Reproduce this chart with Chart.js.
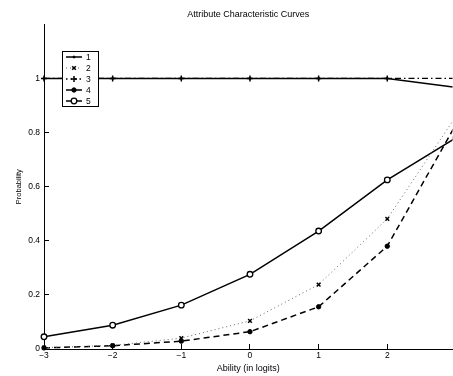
<!DOCTYPE html>
<html>
<head>
<meta charset="utf-8">
<script src="https://cdn.jsdelivr.net/npm/chart.js@4/dist/chart.umd.min.js"></script>
<style>
  html, body { margin: 0; padding: 0; background: #fff; overflow: hidden; }
  canvas { display: block; }
</style>
</head>
<body>
<!-- a little wider than the window: the figure is cut off at the right, like the original -->
<canvas id="accChart" width="458" height="376"></canvas>
<script>
// ability levels (logits)
const abilities = [-3, -2, -1, 0, 1, 2, 3];

// probability per attribute
const attr1 = [1, 1, 1, 1, 1, 1, 0.967];
const attr2 = [0.005, 0.013, 0.04, 0.104, 0.238, 0.481, 0.86];
const attr3 = [1, 1, 1, 1, 1, 1, 1];
const attr4 = [0.004, 0.012, 0.029, 0.064, 0.156, 0.38, 0.83];
const attr5 = [0.045, 0.088, 0.162, 0.276, 0.436, 0.625, 0.78];

const seriesNames = ['1', '2', '3', '4', '5'];

const xTicks = [-3, -2, -1, 0, 1, 2];
const yTicks = [0, 0.2, 0.4, 0.6, 0.8, 1];

const FONT = '"Liberation Sans", Arial, Helvetica, sans-serif';

function pts(vals) {
    return abilities.map((a, i) => ({ x: a, y: vals[i] }));
}

function fmt(v) {
    const s = String(Math.round(v * 10) / 10);
    return s.replace('-', '\u2212');
}

// legend box drawn inside the axes, like the original figure
const boxLegend = {
    id: 'boxLegend',
    afterDraw(chart) {
        const ctx = chart.ctx;
        const x0 = 62.5, y0 = 51.5, w = 36, h = 55;
        ctx.save();
        ctx.fillStyle = '#fff';
        ctx.fillRect(x0, y0, w, h);
        ctx.strokeStyle = '#000';
        ctx.lineWidth = 1;
        ctx.strokeRect(x0, y0, w, h);
        ctx.font = '8.5px ' + FONT;
        ctx.textBaseline = 'middle';
        chart.data.datasets.forEach((ds, i) => {
            const y = 57 + i * 11;
            ctx.strokeStyle = ds.borderColor;
            ctx.lineWidth = ds.borderWidth;
            ctx.setLineDash(ds.legendDash || []);
            ctx.beginPath();
            ctx.moveTo(66, y);
            ctx.lineTo(82, y);
            ctx.stroke();
            ctx.setLineDash([]);
            if (ds.pointRadius > 0) {
                ctx.fillStyle = ds.pointBackgroundColor;
                ctx.strokeStyle = ds.pointBorderColor;
                ctx.lineWidth = ds.pointBorderWidth;
                Chart.helpers.drawPoint(ctx, {
                    pointStyle: ds.pointStyle,
                    radius: ds.pointRadius,
                    borderWidth: ds.pointBorderWidth,
                    rotation: 0
                }, 74, y);
            }
            ctx.fillStyle = '#000';
            ctx.fillText(ds.label, 86, y + 0.5);
        });
        ctx.restore();
    }
};

function noPad(s) {
    s.paddingLeft = 0;
    s.paddingRight = 0;
    s.paddingTop = 0;
    s.paddingBottom = 0;
}

new Chart(document.getElementById('accChart'), {
    type: 'line',
    data: {
        datasets: [
            {
                label: seriesNames[0], data: pts(attr1),
                borderColor: '#000', borderWidth: 1.5,
                pointStyle: 'circle', pointRadius: 1,
                pointBackgroundColor: '#000', pointBorderColor: '#000', pointBorderWidth: 1
            },
            {
                label: seriesNames[1], data: pts(attr2),
                borderColor: '#666', borderWidth: 1, borderDash: [1, 3], legendDash: [1, 3],
                pointStyle: 'crossRot', pointRadius: 2.6,
                pointBackgroundColor: '#000', pointBorderColor: '#000', pointBorderWidth: 1.5
            },
            {
                label: seriesNames[2], data: pts(attr3),
                borderColor: '#000', borderWidth: 1.3, borderDash: [6, 3, 1.5, 3], legendDash: [1.5, 3],
                pointStyle: 'cross', pointRadius: 3,
                pointBackgroundColor: '#000', pointBorderColor: '#000', pointBorderWidth: 1.5
            },
            {
                label: seriesNames[3], data: pts(attr4),
                borderColor: '#000', borderWidth: 1.5, borderDash: [6, 4], legendDash: [],
                pointStyle: 'circle', pointRadius: 2.2,
                pointBackgroundColor: '#000', pointBorderColor: '#000', pointBorderWidth: 1
            },
            {
                label: seriesNames[4], data: pts(attr5),
                borderColor: '#000', borderWidth: 1.5,
                pointStyle: 'circle', pointRadius: 2.8,
                pointBackgroundColor: '#fff', pointBorderColor: '#000', pointBorderWidth: 1.3
            }
        ]
    },
    options: {
        responsive: false,
        devicePixelRatio: 1,
        animation: false,
        layout: { padding: 0 },
        elements: { line: { tension: 0 } },
        datasets: { line: { clip: { left: 6, top: 6, bottom: 6, right: 0 } } },
        plugins: {
            legend: { display: false },
            tooltip: { enabled: false },
            title: {
                display: true,
                fullSize: false,
                text: 'Attribute Characteristic Curves',
                color: '#000',
                font: { family: FONT, size: 9, weight: 'normal' },
                padding: { top: 9, bottom: 4.5 }
            }
        },
        scales: {
            x: {
                type: 'linear',
                min: -3,
                max: 2.95,
                afterBuildTicks: s => { s.ticks = xTicks.map(v => ({ value: v })); },
                afterFit: s => { s.height = 27; noPad(s); },
                grid: { drawOnChartArea: false, drawTicks: true, tickLength: -5, color: '#000', lineWidth: 1 },
                border: { display: true, color: '#000', width: 1 },
                ticks: {
                    color: '#000', padding: 7, maxRotation: 0,
                    font: { family: FONT, size: 8.5 },
                    callback: v => fmt(v)
                },
                title: {
                    display: true, text: 'Ability (in logits)', color: '#000',
                    font: { family: FONT, size: 9 },
                    padding: { top: 0, bottom: 2.5 }
                }
            },
            y: {
                min: 0,
                max: 1.2,
                afterBuildTicks: s => { s.ticks = yTicks.map(v => ({ value: v })); },
                afterFit: s => { s.width = 44; noPad(s); },
                grid: { drawOnChartArea: false, drawTicks: true, tickLength: -5, color: '#000', lineWidth: 1 },
                border: { display: true, color: '#000', width: 1 },
                ticks: {
                    color: '#000', padding: 9,
                    font: { family: FONT, size: 8.5 },
                    callback: v => fmt(v)
                },
                title: {
                    display: true, text: 'Probability', color: '#000',
                    font: { family: FONT, size: 7.5 },
                    padding: { top: 14.5, bottom: 0 }
                }
            }
        }
    },
    plugins: [boxLegend]
});
</script>
</body>
</html>
